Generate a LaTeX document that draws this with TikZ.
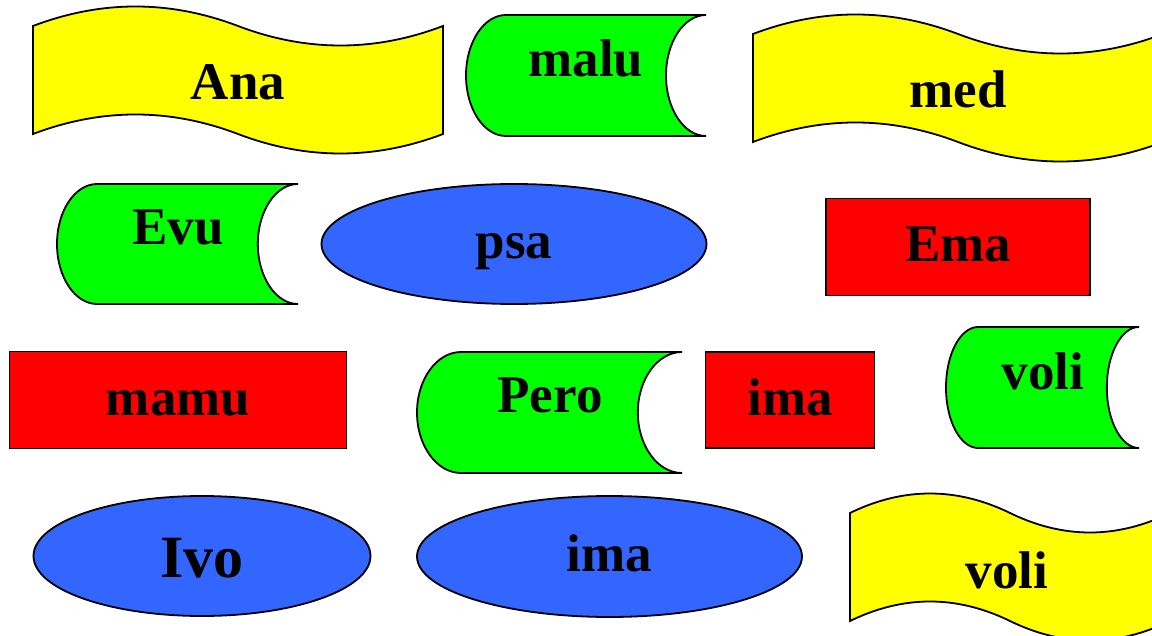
\documentclass[tikz,border=0pt]{standalone}
\usepackage{fontspec}
\setmainfont{Liberation Serif}
\usepackage{tikz}
\usetikzlibrary{shapes.geometric}

\definecolor{flagyellow}{HTML}{FFFF00}
\definecolor{datagreen}{HTML}{00FF00}
\definecolor{ovalblue}{HTML}{3366FF}
\definecolor{boxred}{HTML}{FF0000}

\tikzset{
  flag/.style={draw=black, fill=flagyellow, line width=1.8pt},
  store/.style={draw=black, fill=datagreen, line width=1.8pt},
  oval/.style={ellipse, draw=black, fill=ovalblue, line width=1.8pt, inner sep=0pt},
  redbox/.style={rectangle, draw=black, fill=boxred, line width=1.5pt, inner sep=0pt},
  word/.style={font=\bfseries\fontsize{53}{60}\selectfont, text height=38pt, text depth=8pt}
}

% punched tape: left x, top y, width, height
\newcommand{\tapepath}[4]{%
  \draw[flag] (#1,#2)
    .. controls ({#1+#3/6},{#2-26}) and ({#1+#3/3},{#2-26}) .. ({#1+#3/2},#2)
    .. controls ({#1+2*#3/3},{#2+26}) and ({#1+5*#3/6},{#2+26}) .. ({#1+#3},#2)
    -- ({#1+#3},{#2+#4})
    .. controls ({#1+5*#3/6},{#2+#4+26}) and ({#1+2*#3/3},{#2+#4+26}) .. ({#1+#3/2},{#2+#4})
    .. controls ({#1+#3/3},{#2+#4-26}) and ({#1+#3/6},{#2+#4-26}) .. (#1,{#2+#4})
    -- cycle;}
% stored data: left x, top y, width, height
\newcommand{\storedpath}[4]{%
  \draw[store] ({#1+#3/6},#2) -- ({#1+#3},#2)
    arc[start angle=270, end angle=90, x radius=#3/6, y radius=#4/2]
    -- ({#1+#3/6},{#2+#4})
    arc[start angle=90, end angle=270, x radius=#3/6, y radius=#4/2]
    -- cycle;}

\begin{document}
\begin{tikzpicture}[x=1pt, y=-1pt]
  \useasboundingbox (0,0) rectangle (1152,636);
  \clip (0,0) rectangle (1152,636);

  % first row
  \tapepath{33}{26}{410}{108}
  \node[word, anchor=base] (ana) at (238,100) {Ana};
  \storedpath{466}{15}{240}{121}
  \node[word, anchor=base] (malu) at (586,77) {malu};
  \tapepath{753}{34}{410}{108}
  \node[word, anchor=base] (med) at (958,108) {med};

  % second row
  \storedpath{57}{184}{241}{120}
  \node[word, anchor=base] (evu) at (178,245) {Evu};
  \node[oval, word, minimum width=385, minimum height=120] (psa) at (514,244) {psa};
  \node[redbox, word, minimum width=264, minimum height=97] (ema) at (958,247) {Ema};

  % third row
  \node[redbox, word, minimum width=337, minimum height=97] (mamu) at (178,400) {mamu};
  \storedpath{417}{352}{265}{121}
  \node[word, anchor=base] (pero) at (550,413) {Pero};
  \node[redbox, word, minimum width=169, minimum height=96] (imabox) at (790,400) {ima};
  \storedpath{946}{327}{193}{121}
  \node[word, anchor=base] (voli) at (1043,390) {voli};

  % fourth row
  \node[oval, minimum width=337, minimum height=120,
        font=\bfseries\fontsize{60}{66}\selectfont, text height=42pt, text depth=0pt] (ivo) at (202,556) {Ivo};
  \node[oval, word, minimum width=385, minimum height=121] (imaoval) at (609.5,556.5) {ima};
  \tapepath{850}{513}{320}{108}
  \node[word, anchor=base] (volitape) at (1007,588) {voli};
\end{tikzpicture}
\end{document}
